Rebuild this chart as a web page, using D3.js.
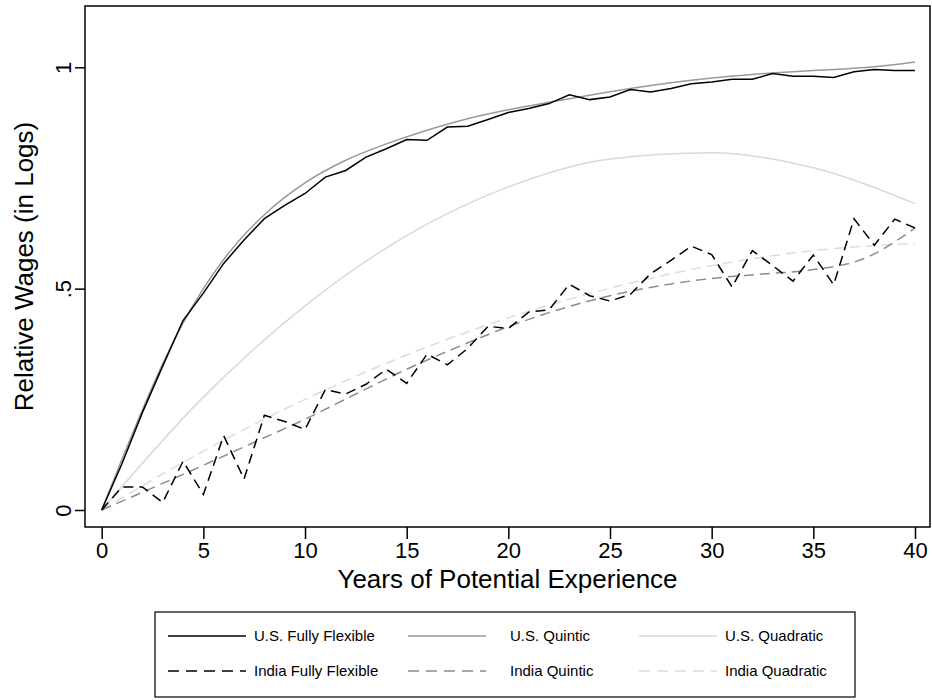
<!DOCTYPE html>
<html>
<head>
<meta charset="utf-8">
<script src="https://cdn.jsdelivr.net/npm/d3@7"></script>
<style>
  body { margin: 0; background: #fff; }
  svg text { font-family: "Liberation Sans", Arial, Helvetica, sans-serif; fill: #000; }
</style>
</head>
<body>
<svg id="chart" width="932" height="700"></svg>
<script>
// values
var years = [0,1,2,3,4,5,6,7,8,9,10,11,12,13,14,15,16,17,18,19,20,
             21,22,23,24,25,26,27,28,29,30,31,32,33,34,35,36,37,38,39,40];

var usFlexible = [0, 0.105, 0.22, 0.325, 0.428, 0.49, 0.557, 0.61, 0.658, 0.688, 0.715,
                  0.752, 0.767, 0.797, 0.816, 0.837, 0.835, 0.865, 0.867, 0.882, 0.898,
                  0.907, 0.918, 0.938, 0.927, 0.933, 0.95, 0.944, 0.952, 0.963, 0.967,
                  0.973, 0.973, 0.986, 0.98, 0.98, 0.977, 0.99, 0.995, 0.993, 0.993];

var indiaFlexible = [0, 0.052, 0.052, 0.017, 0.11, 0.035, 0.168, 0.07, 0.214, 0.2, 0.182,
                     0.272, 0.262, 0.284, 0.318, 0.286, 0.352, 0.328, 0.365, 0.415, 0.41,
                     0.447, 0.452, 0.51, 0.484, 0.472, 0.487, 0.534, 0.564, 0.596, 0.577,
                     0.504, 0.586, 0.552, 0.517, 0.576, 0.509, 0.658, 0.598, 0.657, 0.637];

var usQuinticYears = [0,1,2,3,4,5,6,7,8,9,10,12,14,16,18,20,22,24,26,28,30,32,34,36,38,40];
var usQuintic = [0, 0.115, 0.226, 0.33, 0.422, 0.5, 0.566, 0.621, 0.667, 0.706, 0.739,
                 0.79, 0.827, 0.858, 0.884, 0.904, 0.921, 0.937, 0.952, 0.965, 0.976,
                 0.984, 0.99, 0.995, 1.001, 1.012];

var usQuadYears = [0,5,10,15,20,25,30,35,40];
var usQuadratic = [0, 0.255, 0.461, 0.62, 0.73, 0.793, 0.807, 0.773, 0.692];

var indiaQuinticYears = [0,2.5,5,7.5,10,12.5,15,17.5,20,22.5,25,27.5,30,32.5,35,37.5,40];
var indiaQuintic = [0, 0.05, 0.101, 0.153, 0.205, 0.262, 0.318, 0.368, 0.414, 0.453, 0.484,
                    0.507, 0.523, 0.533, 0.543, 0.568, 0.637];

var indiaQuadYears = [0,5,10,15,20,25,30,35,40];
var indiaQuadratic = [0, 0.133, 0.25, 0.35, 0.434, 0.501, 0.552, 0.586, 0.602];

var xTicks = [0,5,10,15,20,25,30,35,40];
var yTicks = [0, 0.5, 1];
var yTickLabels = ["0", ".5", "1"];

var legendLabels = ["U.S. Fully Flexible", "U.S. Quintic", "U.S. Quadratic",
                    "India Fully Flexible", "India Quintic", "India Quadratic"];

var svg = d3.select("#chart");
var frame = {left: 85, top: 6, right: 930, bottom: 527};

var x = d3.scaleLinear().domain([0, 40]).range([101.7, 915]);
var y = d3.scaleLinear().domain([0, 1]).range([510, 67.3]);

// plot frame
svg.append("rect")
    .attr("x", frame.left)
    .attr("y", frame.top)
    .attr("width", frame.right - frame.left)
    .attr("height", frame.bottom - frame.top)
    .attr("fill", "none")
    .attr("stroke", "#000")
    .attr("stroke-width", 1.5);

// y axis
var yAxis = svg.append("g")
    .attr("transform", "translate(" + frame.left + ",0)")
    .call(d3.axisLeft(y).tickValues(yTicks).tickSize(10)
        .tickFormat(function(d, i) { return yTickLabels[i]; }));
yAxis.select(".domain").remove();
yAxis.selectAll(".tick line").attr("stroke", "#000").attr("stroke-width", 1.5);
yAxis.selectAll(".tick text")
    .attr("x", null).attr("dy", null)
    .attr("transform", "translate(-14,0) rotate(-90)")
    .attr("text-anchor", "middle")
    .style("font-size", "22px");

// x axis
var xAxis = svg.append("g")
    .attr("transform", "translate(0," + frame.bottom + ")")
    .call(d3.axisBottom(x).tickValues(xTicks).tickSize(12));
xAxis.select(".domain").remove();
xAxis.selectAll(".tick line").attr("stroke", "#000").attr("stroke-width", 1.5);
xAxis.selectAll(".tick text").attr("y", 15).style("font-size", "22px");

// axis titles
svg.append("text")
    .attr("x", (frame.left + frame.right) / 2)
    .attr("y", 588)
    .attr("text-anchor", "middle")
    .style("font-size", "26px")
    .text("Years of Potential Experience");

svg.append("text")
    .attr("transform", "translate(33," + (frame.top + frame.bottom) / 2 + ") rotate(-90)")
    .attr("text-anchor", "middle")
    .style("font-size", "26px")
    .text("Relative Wages (in Logs)");

// series
var series = [
  {xs: indiaQuadYears, ys: indiaQuadratic, color: "#dcdcdc", dash: "10,6", curve: d3.curveMonotoneX},
  {xs: usQuadYears, ys: usQuadratic, color: "#d9d9d9", dash: null, curve: d3.curveMonotoneX},
  {xs: indiaQuinticYears, ys: indiaQuintic, color: "#8c8c8c", dash: "10,6", curve: d3.curveMonotoneX},
  {xs: usQuinticYears, ys: usQuintic, color: "#999999", dash: null, curve: d3.curveMonotoneX},
  {xs: years, ys: indiaFlexible, color: "#000", dash: "10,6", curve: d3.curveLinear},
  {xs: years, ys: usFlexible, color: "#000", dash: null, curve: d3.curveLinear}
];

series.forEach(function(s) {
  var line = d3.line()
      .x(function(d, i) { return x(s.xs[i]); })
      .y(function(d) { return y(d); })
      .curve(s.curve);
  svg.append("path")
      .datum(s.ys)
      .attr("d", line)
      .attr("fill", "none")
      .attr("stroke", s.color)
      .attr("stroke-width", 1.5)
      .attr("stroke-dasharray", s.dash);
});

// legend
var legendStyles = [
  {color: "#000", dash: null}, {color: "#999999", dash: null}, {color: "#d9d9d9", dash: null},
  {color: "#000", dash: "11,7"}, {color: "#8c8c8c", dash: "11,7"}, {color: "#dcdcdc", dash: "11,7"}
];
var keyX = [168, 408, 639];
var textX = [254, 510, 725];
var rowY = [636, 671];

svg.append("rect")
    .attr("x", 155).attr("y", 612)
    .attr("width", 700).attr("height", 85)
    .attr("fill", "#fff")
    .attr("stroke", "#000")
    .attr("stroke-width", 1.2);

var item = svg.selectAll(".legend-item")
    .data(legendLabels)
    .enter().append("g")
      .attr("class", "legend-item")
      .attr("transform", function(d, i) { return "translate(0," + rowY[Math.floor(i / 3)] + ")"; });

item.append("line")
    .attr("x1", function(d, i) { return keyX[i % 3]; })
    .attr("x2", function(d, i) { return keyX[i % 3] + 78; })
    .attr("stroke", function(d, i) { return legendStyles[i].color; })
    .attr("stroke-width", 1.5)
    .attr("stroke-dasharray", function(d, i) { return legendStyles[i].dash; });

item.append("text")
    .attr("x", function(d, i) { return textX[i % 3]; })
    .attr("dy", "0.35em")
    .style("font-size", "15px")
    .text(function(d) { return d; });
</script>
</body>
</html>
